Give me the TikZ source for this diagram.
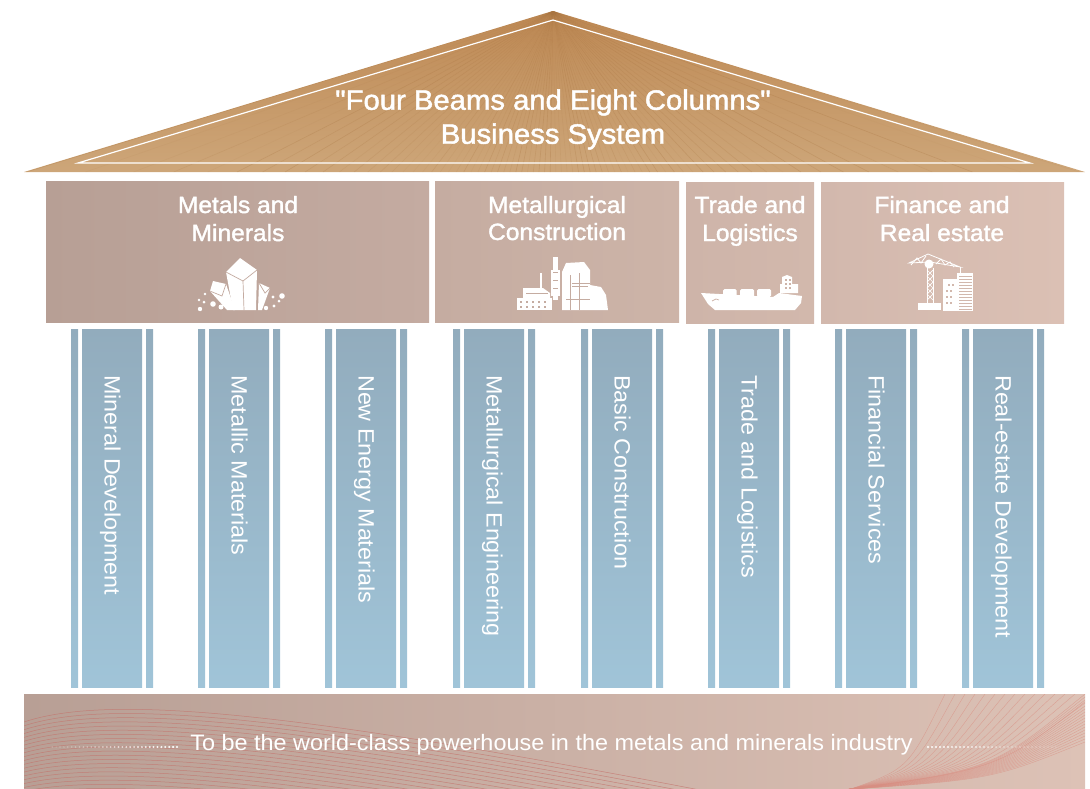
\documentclass[tikz,border=0pt]{standalone}
\usepackage{fontspec}
\setmainfont{Liberation Sans}
\newfontfamily\medfont[FakeBold=1.6,FakeStretch=1.045]{Liberation Sans}
\newfontfamily\colfont[FakeStretch=1.05]{Liberation Sans}
\definecolor{roofA}{HTML}{BE8954}
\definecolor{roofB}{HTML}{CDA679}
\definecolor{rayc}{HTML}{A87440}
\definecolor{barA}{HTML}{92ACBD}
\definecolor{barB}{HTML}{A0C4D8}
\definecolor{waveL}{HTML}{C4736C}
\definecolor{waveR}{HTML}{D98E82}
\definecolor{baseA}{HTML}{B89F95}
\definecolor{baseB}{HTML}{DDC2B6}
\definecolor{bmA}{RGB}{183,159,149}
\definecolor{bmB}{RGB}{196,171,161}
\definecolor{bmC}{RGB}{197,172,161}
\definecolor{bmD}{RGB}{205,180,168}
\definecolor{bmE}{RGB}{206,180,169}
\definecolor{bmF}{RGB}{210,184,172}
\definecolor{bmG}{RGB}{210,184,173}
\definecolor{bmH}{RGB}{219,192,180}
\tikzset{
  beamlabel/.style={text=white,font=\medfont\fontsize{23.5}{28}\selectfont,align=center,inner sep=0pt,text height=17pt,text depth=5pt},
  coltext/.style={text=white,font=\colfont\fontsize{22.2}{24}\selectfont,rotate=-90,anchor=west,inner sep=0pt,text height=16pt,text depth=5pt},
  icon/.style={fill=white,draw=none},
  iconline/.style={line width=.7pt}
}
\begin{document}
\begin{tikzpicture}[x=1pt,y=-1pt]
\useasboundingbox (0,0) rectangle (1090,788);
% roof
\begin{scope}
  \clip (553,11) -- (1085,172) -- (24,172) -- cycle;
  \shade[top color=roofA,bottom color=roofB] (20,11) rectangle (1090,172);
  \pgfmathsetseed{7}
  \foreach \a in {-73,-71,...,73}{
    \pgfmathsetmacro{\op}{0.05+0.25*rnd}
    \draw[rayc,line width=.6pt,opacity=\op] (553,11) -- ({553+161*tan(\a)},172);
  }
\end{scope}
\coordinate (rA) at (553,20);
\coordinate (rB) at (1030,163);
\coordinate (rC) at (78,163);
\draw[white,line width=1.2pt] (rA) -- (rB) -- (rC) -- cycle;
\node[text=white,font=\medfont\fontsize{28}{34}\selectfont,align=center,inner sep=0pt] (title) at (553,119.5) {"Four Beams and Eight Columns"\\Business System};
% beams
\shade[left color=bmA,right color=bmB] (46,181) rectangle (429,322);
\shade[left color=bmC,right color=bmD] (435,181) rectangle (679,322);
\shade[left color=bmE,right color=bmF] (686,182) rectangle (814,323);
\shade[left color=bmG,right color=bmH] (821,182) rectangle (1064,323);
\node[beamlabel] (b1a) at (238,207) {Metals and};
\node[beamlabel] (b1b) at (238,235) {Minerals};
\node[beamlabel] (b2a) at (557,207) {Metallurgical};
\node[beamlabel] (b2b) at (557,234) {Construction};
\node[beamlabel] (b3a) at (750,207) {Trade and};
\node[beamlabel] (b3b) at (750,235) {Logistics};
\node[beamlabel] (b4a) at (942,207) {Finance and};
\node[beamlabel] (b4b) at (942,235) {Real estate};
% crystal icon
\fill[icon] (240,258) -- (257,270) -- (256,310) -- (233,310) -- (226,272) -- cycle;
\draw[bmB,iconline] (226,272) -- (243,281) -- (257,270) (243,281) -- (244,310);
\fill[icon] (213,281) -- (226,284) -- (235,310) -- (227,310) -- (210,291) -- cycle;
\draw[bmB,iconline] (210,291) -- (222,296) -- (226,284);
\fill[icon] (259,283) -- (270,288) -- (262,310) -- (258,310) -- cycle;
\draw[bmB,iconline] (259,283) -- (265,293) -- (270,288);
\foreach \px/\py/\pr in {200/309/2.2,204/302/1.5,199/300/1.3,213/304/2.8,221/307/2.5,205/294/1.4,266/308/2.2,274/306/1.6,273/297/1.7,279/301/1.5,282/296/2.8}{
  \fill[white] (\px,\py) circle[radius=\pr];
}
% factory icon
\fill[icon] (517,298) rectangle (552,310);
\fill[icon] (523,288) -- (543,288) -- (550,293) -- (550,298) -- (523,298) -- cycle;
\fill[icon] (539.5,273) rectangle (541.5,290);
\fill[icon] (553,257) rectangle (558,300);
\fill[icon] (551,270) rectangle (560,296);
\fill[icon] (562,310) -- (562,272) -- (566,263) -- (584,262) -- (590,270) -- (590,285) -- (601,287) -- (606,295) -- (608,310) -- cycle;
\foreach \px in {520,526,532,538,544}{\foreach \py in {301,306}{\fill[bmC] (\px,\py) rectangle +(2,2.2);}}
\draw[bmC,iconline] (570,275) -- (570,310) (579,273) -- (579,310) (566,299) -- (590,299) (572,283) -- (590,283) (572,286) -- (588,286);
\draw[bmC,iconline] (553,272) -- (558,272) (553,280) -- (558,280) (553,288) -- (558,288);
\draw[bmC,iconline] (526,293) -- (548,293);
% ship icon
\fill[icon] (701,293) -- (773,297) -- (779,293) -- (802,296) -- (801,303) -- (795,310) -- (715,310) -- (708,304) -- cycle;
\fill[icon,rounded corners=1.5pt] (723,289) rectangle (736.5,297);
\fill[icon,rounded corners=1.5pt] (740,289) rectangle (754,297);
\fill[icon,rounded corners=1.5pt] (757,289) rectangle (771,297);
\fill[icon] (780,293) -- (780,284) -- (782,284) -- (782,277) -- (787,275) -- (792,277) -- (792,284) -- (798,284) -- (798,293) -- cycle;
\foreach \px/\py in {785/279,789/279,785/283,789/283,785/287,789/287}{\fill[bmE] (\px,\py) rectangle +(2,2);}
\draw[bmE,iconline] (712,301) -- (716,299) -- (719,300);
% crane icon
\draw[white,line width=.8pt] (909,263) -- (928,254) -- (960,267) -- (930,262) -- cycle;
\draw[white,line width=.8pt] (911,265) -- (917,258) -- (921,263) -- (926,256) (936,264) -- (941,259) -- (945,265) -- (950,262) -- (954,267);
\draw[white,line width=.8pt] (960,267) -- (960,274);
\fill[white] (929,264) circle[radius=4.5];
\draw[white,line width=1pt] (927,268) -- (927,303) (933,268) -- (933,303);
\draw[white,line width=.7pt] (927,270) -- (933,276) -- (927,282) -- (933,288) -- (927,294) -- (933,300);
\draw[white,line width=.7pt] (933,270) -- (927,276) -- (933,282) -- (927,288) -- (933,294) -- (927,300);
\fill[icon] (918,303) rectangle (941,310);
\fill[icon] (943,279) rectangle (957,311);
\fill[icon] (957,273) rectangle (973,311);
\foreach \py in {276,279,...,309}{\draw[bmG,line width=.5pt] (959,\py) -- (972,\py);}
\foreach \px/\py in {948/284,952/284,946/290,950/290,946/296,950/296,946/302,950/302}{\fill[bmG] (\px,\py) rectangle +(2,2);}
% columns
\foreach \cx/\lab/\nm in {71/Mineral Development/c1,198/Metallic Materials/c2,325/New Energy Materials/c3,453/Metallurgical Engineering/c4,581/Basic Construction/c5,708/Trade and Logistics/c6,835/Financial Services/c7,962/Real-estate Development/c8}{
  \shade[top color=barA,bottom color=barB] (\cx,329) rectangle +(7,358);
  \shade[top color=barA,bottom color=barB] ({\cx+11},329) rectangle +(60,358);
  \shade[top color=barA,bottom color=barB] ({\cx+75},329) rectangle +(7,358);
  \node[coltext] (\nm) at ({\cx+39},375) {\lab};
}
% base
\shade[left color=baseA,right color=baseB] (24,694) rectangle (1085,788);
\begin{scope}
  \clip (24,694) rectangle (1085,788);
  \foreach \t in {0,1,...,24}{
    \pgfmathsetmacro{\dy}{\t*3.85}
    \draw[waveL,line width=.5pt,opacity=.75] (24,{722+\dy}) .. controls (110,{693+\dy*1.15}) and (300,{713+\dy*1.1}) .. (700,{790+\dy*1.1});
  }
  \foreach \t in {0,1,...,15}{
    \pgfmathsetmacro{\ex}{945+\t*10}
    \pgfmathsetmacro{\sx}{848-\t*0.3}
    \draw[waveR,line width=.4pt,opacity=.65] (\sx,790) .. controls ({\sx+0.62*(\ex-\sx)},{790-0.22*96}) .. (\ex,694);
  }
  \foreach \t in {1,2,...,16}{
    \pgfmathsetmacro{\ey}{694+\t*3}
    \pgfmathsetmacro{\sx}{843-\t*0.2}
    \draw[waveR,line width=.4pt,opacity=.65] (\sx,790) .. controls ({\sx+0.62*(1085-\sx)},{790-0.22*(790-\ey)}) .. (1085,\ey);
  }
\end{scope}
\node[text=white,font=\colfont\fontsize{22.3}{26}\selectfont,inner sep=0pt] (motto) at (551.5,745) {To be the world-class powerhouse in the metals and minerals industry};
% dotted rules
\foreach \i in {0,1,...,32}{
  \pgfmathsetmacro{\op}{max(0.2,1-\i/38)}
  \fill[white,opacity=\op] ({177-\i*3.9},747) circle[radius={1.2-\i*0.012}];
  \fill[white,opacity=\op] ({928+\i*4},747) circle[radius={1.2-\i*0.012}];
}
\end{tikzpicture}
\end{document}
